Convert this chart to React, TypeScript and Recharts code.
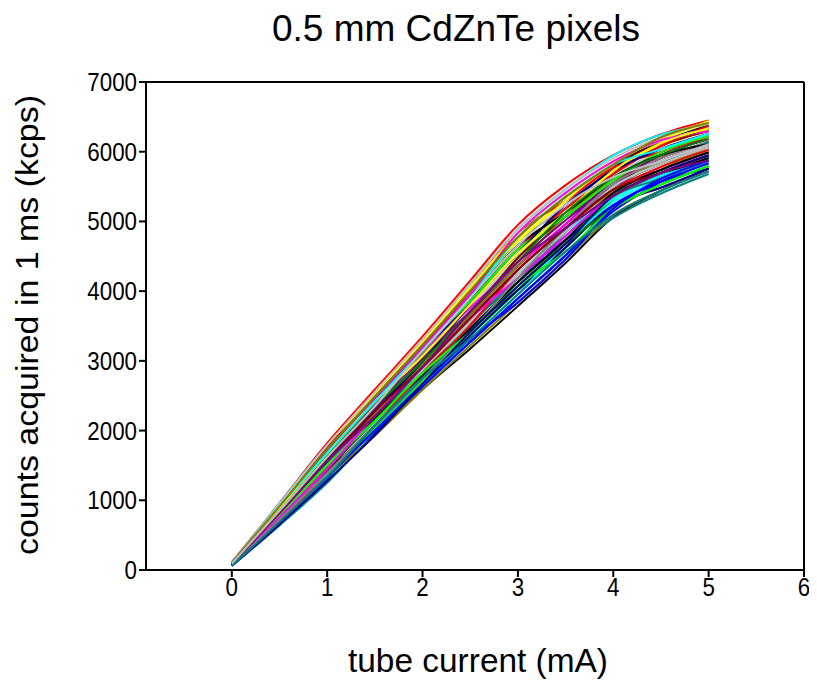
import React from "react";
import { LineChart, Line, XAxis, YAxis, ReferenceLine, Label } from "recharts";

// tube current (mA)
const current = [0, 0.5, 1, 1.5, 2, 2.5, 3, 3.5, 4, 4.5, 5];

// counts acquired in 1 ms (kcps), one array per pixel
const p01 = [70, 668, 1300, 1930, 2590, 3175, 3785, 4405, 5060, 5440, 5760];
const p02 = [110, 960, 1820, 2590, 3350, 4150, 4950, 5520, 5950, 6250, 6450];
const p03 = [80, 805, 1480, 2170, 2955, 3665, 4480, 5070, 5495, 5830, 5990];
const p04 = [90, 860, 1650, 2385, 3185, 3950, 4720, 5300, 5770, 6085, 6300];
const p05 = [75, 740, 1360, 2040, 2705, 3270, 3895, 4515, 5145, 5570, 5910];
const p06 = [100, 925, 1705, 2380, 3035, 3660, 4250, 4735, 5225, 5485, 5715];
const p07 = [105, 955, 1790, 2525, 3270, 4100, 4890, 5460, 5945, 6245, 6375];
const p08 = [85, 800, 1535, 2245, 2870, 3565, 4245, 4850, 5410, 5740, 6065];
const p09 = [75, 770, 1475, 2105, 2790, 3465, 4130, 4850, 5500, 5910, 6220];
const p10 = [65, 675, 1365, 2040, 2790, 3460, 4015, 4625, 5320, 5655, 5910];
const p11 = [95, 830, 1590, 2315, 3110, 3855, 4600, 5185, 5770, 6165, 6370];
const p12 = [85, 770, 1535, 2315, 3030, 3760, 4365, 4960, 5410, 5655, 5835];
const p13 = [70, 735, 1420, 2175, 2870, 3660, 4365, 4960, 5590, 5910, 6140];
const p14 = [60, 640, 1250, 1970, 2630, 3270, 3895, 4510, 5050, 5400, 5680];
const p15 = [90, 830, 1650, 2315, 3030, 3760, 4480, 5185, 5680, 5995, 6220];
const p16 = [65, 705, 1365, 2040, 2710, 3365, 4015, 4625, 5320, 5655, 5910];
const p17 = [95, 895, 1705, 2450, 3190, 4050, 4835, 5295, 5770, 5995, 6220];
const p18 = [75, 735, 1420, 2040, 2710, 3365, 4015, 4735, 5320, 5740, 5990];
const p19 = [105, 930, 1765, 2520, 3270, 4050, 4835, 5410, 5860, 6165, 6410];
const p20 = [80, 770, 1420, 2105, 2790, 3465, 4130, 4735, 5230, 5570, 5755];
const p21 = [110, 930, 1705, 2385, 3110, 3760, 4365, 4960, 5500, 5825, 6065];
const p22 = [70, 705, 1365, 2105, 2790, 3560, 4250, 4850, 5320, 5655, 5835];
const p23 = [100, 895, 1650, 2385, 3110, 3955, 4715, 5185, 5590, 5910, 6140];
const p24 = [90, 830, 1590, 2245, 2950, 3660, 4480, 5070, 5680, 6080, 6295];
const p25 = [85, 830, 1590, 2315, 2950, 3560, 4130, 4735, 5410, 5740, 5990];
const p26 = [60, 670, 1305, 1970, 2630, 3365, 4015, 4625, 5230, 5485, 5755];
const p27 = [80, 770, 1480, 2245, 2950, 3660, 4365, 5070, 5590, 5825, 6065];
const p28 = [95, 865, 1590, 2315, 3030, 3855, 4600, 5070, 5500, 5740, 5990];
const p29 = [85, 800, 1535, 2175, 2870, 3465, 4130, 4850, 5500, 5825, 6140];
const p30 = [75, 705, 1420, 2105, 2870, 3560, 4250, 4850, 5500, 5825, 6065];
const p31 = [80, 735, 1420, 2175, 2790, 3465, 4130, 4735, 5410, 5740, 5990];
const p32 = [105, 930, 1765, 2450, 3190, 3955, 4600, 5185, 5680, 6080, 6375];
const p33 = [90, 865, 1650, 2450, 3190, 3855, 4600, 5070, 5590, 5995, 6220];
const p34 = [100, 895, 1705, 2520, 3270, 4050, 4715, 5295, 5860, 6165, 6440];
const p35 = [70, 705, 1305, 1970, 2630, 3270, 3895, 4510, 5230, 5570, 5835];
const p36 = [95, 895, 1705, 2450, 3190, 3955, 4835, 5410, 5860, 6165, 6295];
const p37 = [62, 656, 1278, 2003, 2670, 3317, 3955, 4680, 5275, 5612, 5872];
const p38 = [82, 784, 1506, 2210, 2910, 3611, 4306, 4904, 5455, 5782, 6026];
const p39 = [102, 912, 1734, 2486, 3230, 4003, 4774, 5352, 5815, 6122, 6334];
const p40 = [72, 720, 1449, 2141, 2830, 3415, 4072, 4680, 5185, 5527, 5795];
const p41 = [92, 848, 1563, 2279, 2990, 3807, 4540, 5240, 5725, 6037, 6257];
const p42 = [67, 688, 1335, 1934, 2590, 3219, 3838, 4456, 5095, 5442, 5718];
const p43 = [87, 816, 1620, 2348, 3070, 3709, 4423, 5016, 5545, 5952, 6180];
const p44 = [77, 752, 1392, 2072, 2750, 3513, 4189, 4792, 5365, 5612, 5872];
const p45 = [107, 944, 1791, 2555, 3310, 4101, 4891, 5464, 5905, 6207, 6411];
const p46 = [97, 880, 1677, 2417, 3150, 3905, 4657, 5128, 5635, 5952, 6103];
const p47 = [67, 688, 1392, 2072, 2830, 3513, 4306, 4904, 5455, 5782, 6026];
const p48 = [82, 784, 1506, 2141, 2830, 3415, 4072, 4568, 5185, 5527, 5795];
const p49 = [92, 880, 1677, 2417, 3070, 3807, 4540, 5128, 5725, 6122, 6334];
const p50 = [62, 656, 1335, 2003, 2670, 3317, 3838, 4456, 5185, 5612, 5872];
const p51 = [77, 752, 1449, 2210, 2910, 3611, 4189, 4792, 5365, 5697, 5949];
const p52 = [102, 912, 1677, 2417, 3150, 3905, 4774, 5352, 5815, 6037, 6257];
const p53 = [72, 720, 1392, 2072, 2750, 3415, 4189, 4904, 5545, 5867, 6103];
const p54 = [87, 816, 1563, 2279, 2910, 3611, 4306, 4904, 5455, 5697, 5949];
const p55 = [97, 848, 1620, 2348, 2990, 3709, 4423, 5128, 5635, 5952, 6180];
const p56 = [67, 656, 1278, 1934, 2670, 3415, 4072, 4680, 5365, 5697, 5949];
const p57 = [107, 912, 1734, 2486, 3230, 4003, 4774, 5352, 5815, 6207, 6411];
const p58 = [82, 816, 1563, 2210, 2910, 3709, 4423, 4904, 5365, 5697, 5872];
const p59 = [62, 688, 1335, 2072, 2750, 3317, 3955, 4568, 5095, 5442, 5718];
const p60 = [92, 848, 1620, 2348, 3150, 3905, 4657, 5240, 5635, 5867, 6103];

const pixels = [p01, p02, p03, p04, p05, p06, p07, p08, p09, p10, p11, p12, p13, p14, p15, p16, p17, p18,
  p19, p20, p21, p22, p23, p24, p25, p26, p27, p28, p29, p30, p31, p32, p33, p34, p35, p36, p37, p38, p39,
  p40, p41, p42, p43, p44, p45, p46, p47, p48, p49, p50, p51, p52, p53, p54, p55, p56, p57, p58, p59, p60];

const palette = ["#000000", "#ff0000", "#00ff00", "#ffff00", "#0000ff", "#ff00ff", "#00ffff", "#808080",
  "#800000", "#008000", "#000080", "#808000", "#800080", "#008080", "#c0c0c0"];

const xTicks = [0, 1, 2, 3, 4, 5, 6];
const yTicks = [0, 1000, 2000, 3000, 4000, 5000, 6000, 7000];

const title = "0.5 mm CdZnTe pixels";
const xTitle = "tube current (mA)";
const yTitle = "counts acquired in 1 ms (kcps)";

const data = current.map((c, i) => {
  const row: Record<string, number> = { current: c };
  pixels.forEach((p, k) => { row["p" + k] = p[i]; });
  return row;
});

const FONT = "'Liberation Sans', Arial, sans-serif";

const YTick = (props: any) => {
  const { x, y, payload } = props;
  return (
    <g transform={`translate(${x},${y})`}>
      <text transform="scale(0.86,1)" textAnchor="end" dy={9} fontSize={26} fontFamily={FONT} fill="#000">
        {payload.value}
      </text>
    </g>
  );
};

const XTick = (props: any) => {
  const { x, y, payload } = props;
  return (
    <g transform={`translate(${x},${y})`}>
      <text transform="scale(0.86,1)" textAnchor="middle" dy={17} fontSize={26} fontFamily={FONT} fill="#000">
        {payload.value}
      </text>
    </g>
  );
};

export default function App() {
  return (
    <div style={{ width: 801, height: 671, fontFamily: FONT }}>
      <LineChart width={801} height={671} data={data} margin={{ top: 74, right: 5, left: 0, bottom: 69 }}>
        <XAxis
          dataKey="current"
          type="number"
          domain={[-0.9, 6]}
          ticks={xTicks}
          allowDataOverflow
          height={40}
          tickSize={7}
          stroke="#000"
          strokeWidth={2}
          tick={<XTick />}
        >
          <Label
            content={() => (
              <g>
                <text x={470} y={664} textAnchor="middle" fontSize={33} textLength={260} lengthAdjust="spacingAndGlyphs" fontFamily={FONT} fill="#000">{xTitle}</text>
                <text x={448} y={33} textAnchor="middle" fontSize={37} textLength={368} lengthAdjust="spacingAndGlyphs" fontFamily={FONT} fill="#000">{title}</text>
              </g>
            )}
          />
        </XAxis>
        <YAxis
          type="number"
          domain={[0, 7000]}
          ticks={yTicks}
          width={138}
          tickSize={7}
          stroke="#000"
          strokeWidth={2}
          tick={<YTick />}
        >
          <Label
            content={() => (
              <text x={30} y={317} transform="rotate(-90, 30, 317)" textAnchor="middle" fontSize={31} textLength={460} lengthAdjust="spacingAndGlyphs" fontFamily={FONT} fill="#000">{yTitle}</text>
            )}
          />
        </YAxis>
        <ReferenceLine y={7000} stroke="#000" strokeWidth={2} />
        <ReferenceLine x={6} stroke="#000" strokeWidth={2} />
        {pixels.map((_, k) => (
          <Line
            key={k}
            type="monotone"
            dataKey={"p" + k}
            stroke={palette[k % palette.length]}
            strokeWidth={2}
            dot={false}
            isAnimationActive={false}
          />
        ))}
      </LineChart>
    </div>
  );
}
